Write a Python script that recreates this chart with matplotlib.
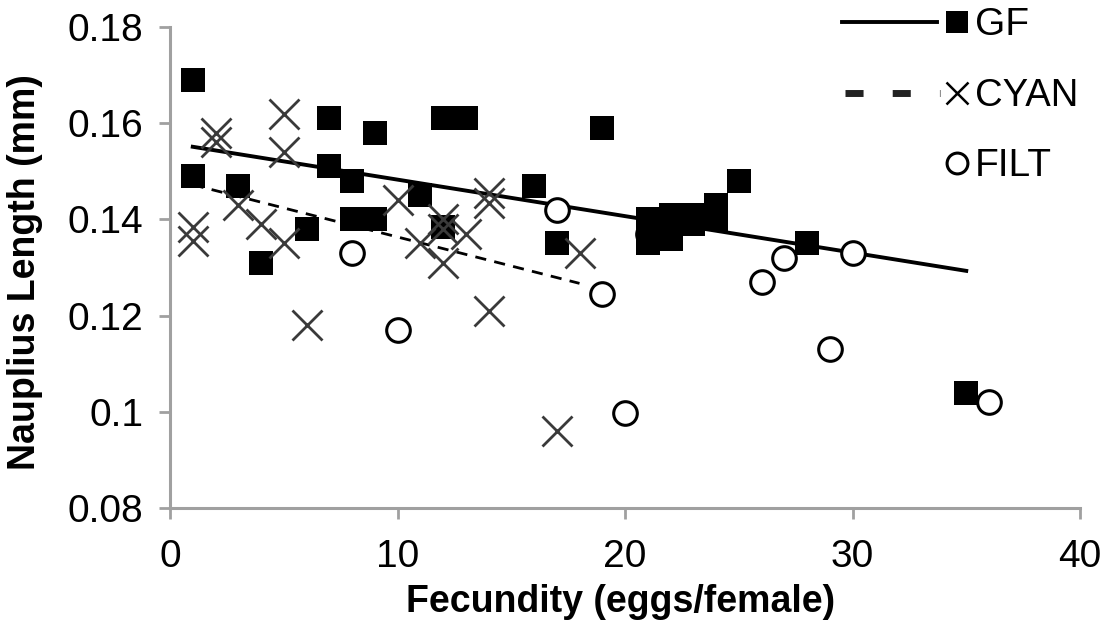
import numpy as np
import matplotlib
matplotlib.use('Agg')
import matplotlib.pyplot as plt
from matplotlib.lines import Line2D

plt.rcParams['font.family'] = ['Liberation Sans', 'DejaVu Sans']

##data
gf_x = [1, 1, 3, 4, 6, 7, 7, 8, 8, 9, 9, 11, 12, 12, 13, 16, 17, 19,
        21, 21, 22, 22, 23, 23, 24, 24, 25, 28, 35]
gf_y = [0.169, 0.149, 0.147, 0.131, 0.138, 0.161, 0.151, 0.148, 0.140,
        0.158, 0.140, 0.145, 0.161, 0.1385, 0.161, 0.147, 0.135, 0.159,
        0.140, 0.135, 0.141, 0.136, 0.141, 0.139, 0.143, 0.140, 0.148,
        0.135, 0.104]

cyan_x = [1, 1, 2, 2, 3, 4, 5, 5, 5, 6, 10, 11, 12, 12, 12, 13, 14, 14,
          14, 17, 18]
cyan_y = [0.1385, 0.1355, 0.158, 0.156, 0.143, 0.139, 0.162, 0.154,
          0.135, 0.118, 0.144, 0.135, 0.140, 0.138, 0.131, 0.137, 0.1455,
          0.1435, 0.121, 0.096, 0.133]

filt_x = [8, 10, 17, 19, 20, 21, 26, 27, 29, 30, 36]
filt_y = [0.133, 0.117, 0.142, 0.1245, 0.0997, 0.137, 0.127, 0.132,
          0.113, 0.133, 0.102]

##trend lines (end points)
gf_fit_x = [1, 35]
gf_fit_y = [0.1551, 0.1293]
cyan_fit_x = [1, 18]
cyan_fit_y = [0.1472, 0.1267]

x_ticks = [0, 10, 20, 30, 40]
y_ticks = [0.08, 0.10, 0.12, 0.14, 0.16, 0.18]
y_labels = ['0.08', '0.1', '0.12', '0.14', '0.16', '0.18']

W, H = 1108, 642
fig = plt.figure(figsize=(W / 100, H / 100), dpi=100)
ax = fig.add_axes([170 / W, 1 - 508 / H, (1080 - 170) / W, (508 - 27) / H])

cross_col = '#3a3a3a'
ax.plot(gf_fit_x, gf_fit_y, '-', color='black', lw=2.8, zorder=2)
ax.plot(cyan_fit_x, cyan_fit_y, color='black', lw=2.0, dashes=(4, 3), zorder=2)
ax.plot(filt_x, filt_y, 'o', ms=17, mfc='white', mec='black', mew=2.2, ls='none', zorder=3)
ax.plot(gf_x, gf_y, 's', ms=17, mfc='black', mec='black', mew=0, ls='none', zorder=4)
ax.plot(cyan_x, cyan_y, 'x', ms=21, mec=cross_col, mew=2.0, ls='none', zorder=5)

ax.set_xlim(0, 40)
ax.set_ylim(0.08, 0.18)
ax.set_xticks(x_ticks)
ax.set_yticks(y_ticks)
ax.set_yticklabels(y_labels)

for s in ['top', 'right']:
    ax.spines[s].set_visible(False)
for s in ['left', 'bottom']:
    ax.spines[s].set_color('#a0a0a0')
    ax.spines[s].set_linewidth(2.2)
ax.tick_params(direction='out', length=8, width=2, color='#a0a0a0',
               labelsize=28)
ax.tick_params(axis='y', pad=11)
ax.tick_params(axis='x', pad=14)

ax.set_xlabel('Fecundity (eggs/female)', fontsize=27, fontweight='bold')
ax.set_ylabel('Nauplius Length (mm)', fontsize=27, fontweight='bold')
ax.xaxis.set_label_coords(0.495, -0.158)
ax.yaxis.set_label_coords(-0.14, 0.49)

##legend drawn by hand (line then marker, like the original)
def fx(px):
    return px / W

def fy(py):
    return 1 - py / H

fig.add_artist(Line2D([fx(842), fx(937)], [fy(22), fy(22)], color='black', lw=2.8))
fig.add_artist(Line2D([fx(957)], [fy(22)], marker='s', ms=16, color='black', mew=0))
fig.text(fx(975), fy(25), 'GF', fontsize=28, va='center', ha='left')

fig.add_artist(Line2D([fx(845), fx(940)], [fy(93), fy(93)], color='#222222', lw=5,
                      dashes=(2.6, 4.2), dash_capstyle='butt'))
fig.add_artist(Line2D([fx(957)], [fy(93)], marker='x', ms=16, mec='black', mew=1.8))
fig.text(fx(975), fy(96), 'CYAN', fontsize=27.5, va='center', ha='left')

fig.add_artist(Line2D([fx(957)], [fy(163)], marker='o', ms=15, mfc='white', mec='black', mew=2.2))
fig.text(fx(975), fy(166), 'FILT', fontsize=28, va='center', ha='left')

fig.savefig('out.png', dpi=100)
plt.close()
